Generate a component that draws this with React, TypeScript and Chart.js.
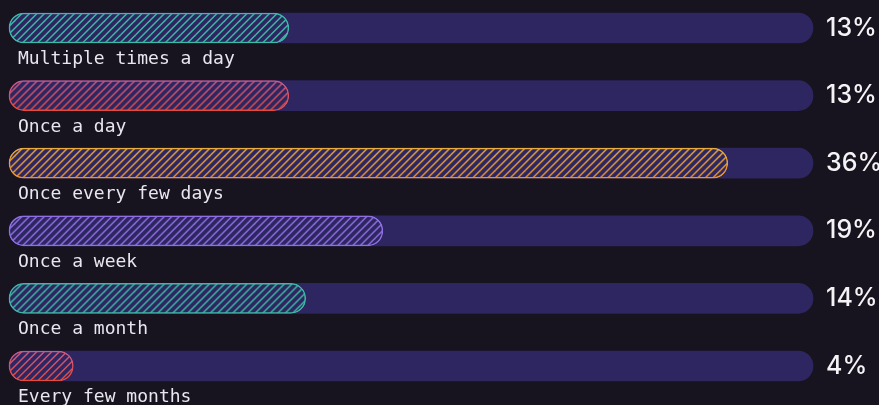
import React, { useEffect, useRef } from "react";
import { Chart, registerables } from "chart.js";

Chart.register(...registerables);

const categories = [
  "Multiple times a day",
  "Once a day",
  "Once every few days",
  "Once a week",
  "Once a month",
  "Every few months",
];
const percentLabels = ["13%", "13%", "36%", "19%", "14%", "4%"];
// bar lengths (share of the full track)
const barLengths = [34.8, 34.8, 89.4, 46.5, 36.9, 8.0];
const trackMax = 100;
const trackValues = categories.map(() => trackMax);

const stripeTop = ["#3dbaa5", "#c95a88", "#e9ac3e", "#8f6fe3", "#3dbaa5", "#c95a88"];
const stripeBottom = ["#3dbaa5", "#e64a3c", "#e8922a", "#8f6fe3", "#3dbaa5", "#e64a3c"];

const BG = "#17131f";
const TRACK = "#2e2660";
const BAR_H = 30;
const PERIOD = 7.5;

function makePattern(ctx: CanvasRenderingContext2D, top: string, bottom: string, y0: number) {
  const tile = document.createElement("canvas");
  const w = PERIOD * 2;
  tile.width = w;
  tile.height = BAR_H;
  const t = tile.getContext("2d")!;
  t.fillStyle = TRACK;
  t.fillRect(0, 0, w, BAR_H);
  const g = t.createLinearGradient(0, 0, 0, BAR_H);
  g.addColorStop(0, top);
  g.addColorStop(1, bottom);
  t.strokeStyle = g;
  t.lineWidth = 1.4;
  for (let c = -BAR_H - w; c <= w * 2; c += PERIOD) {
    t.beginPath();
    t.moveTo(c, BAR_H);
    t.lineTo(c + BAR_H, 0);
    t.stroke();
  }
  const p = ctx.createPattern(tile, "repeat")!;
  if (p && (p as any).setTransform) {
    p.setTransform(new DOMMatrix().translate(0, y0));
  }
  return p;
}

function barCenter(c: any): number | null {
  const ys = c && c.chart && c.chart.scales && c.chart.scales.y;
  if (!ys || c.type !== "data") return null;
  const v = ys.getPixelForValue(c.dataIndex);
  return Number.isFinite(v) ? v : null;
}

export default function App() {
  const ref = useRef<HTMLCanvasElement | null>(null);

  useEffect(() => {
    if (!ref.current) return;

    const labelPlugin = {
      id: "catLabels",
      afterDatasetsDraw(chart: any) {
        const { ctx, chartArea } = chart;
        const ys = chart.scales.y;
        ctx.save();
        ctx.font = '18px "DejaVu Sans Mono"';
        ctx.fillStyle = "#e8e6ee";
        ctx.textAlign = "left";
        ctx.textBaseline = "alphabetic";
        categories.forEach((c, i) => {
          const y = ys.getPixelForValue(i) + 36;
          ctx.fillText(c, chartArea.left + 9, y);
        });
        ctx.restore();
      },
    };

    const chart = new Chart(ref.current, {
      type: "bar",
      data: {
        labels: categories,
        datasets: [
          {
            data: barLengths,
            order: 0,
            grouped: false,
            clip: false,
            barThickness: BAR_H,
            borderWidth: 1.5,
            borderRadius: 15,
            borderSkipped: false,
            backgroundColor: (c: any) => {
              const yc = barCenter(c);
              if (yc === null) return TRACK;
              return makePattern(c.chart.ctx, stripeTop[c.dataIndex], stripeBottom[c.dataIndex], yc - BAR_H / 2);
            },
            borderColor: (c: any) => {
              const yc = barCenter(c);
              if (yc === null) return stripeTop[0];
              const g = c.chart.ctx.createLinearGradient(0, yc - BAR_H / 2, 0, yc + BAR_H / 2);
              g.addColorStop(0, stripeTop[c.dataIndex]);
              g.addColorStop(1, stripeBottom[c.dataIndex]);
              return g;
            },
          } as any,
          {
            data: trackValues,
            order: 1,
            grouped: false,
            clip: false,
            barThickness: BAR_H,
            borderWidth: 0,
            borderRadius: 15,
            borderSkipped: false,
            backgroundColor: TRACK,
          } as any,
        ],
      },
      options: {
        indexAxis: "y",
        animation: false,
        responsive: false,
        events: [],
        layout: { padding: { left: 9, top: 24, bottom: 39, right: 0 } },
        plugins: { legend: { display: false }, tooltip: { enabled: false } },
        scales: {
          x: { display: false, min: 0, max: trackMax },
          y: {
            position: "right",
            offset: false,
            grid: { display: false, drawTicks: false },
            border: { display: false },
            afterFit: (s: any) => {
              s.width = 66;
            },
            ticks: {
              padding: 13,
              crossAlign: "near",
              color: "#f4f4f6",
              font: { family: "Inter", size: 25, weight: "500" },
              callback: (_v: any, i: number) => percentLabels[i],
            },
          },
        },
      },
      plugins: [labelPlugin],
    });
    return () => chart.destroy();
  }, []);

  return (
    <div style={{ position: "fixed", left: 0, top: 0, width: 879, height: 405, background: BG }}>
      <canvas ref={ref} width={879} height={405} style={{ display: "block" }} />
    </div>
  );
}
